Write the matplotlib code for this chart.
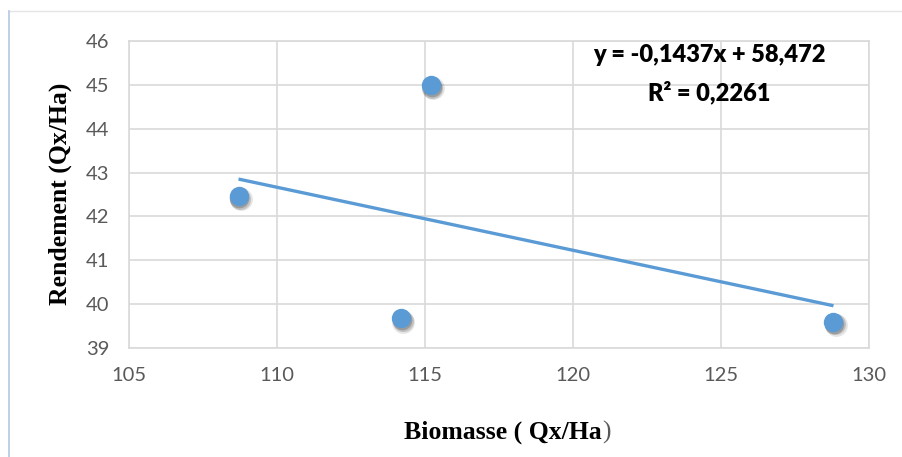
import matplotlib
matplotlib.use("Agg")
import matplotlib.pyplot as plt
import matplotlib.transforms as mtransforms
from matplotlib.lines import Line2D
import numpy as np

# Data
biomasse = [108.7, 114.2, 115.2, 128.8]
rendement = [42.47, 39.68, 45.0, 39.6]
slope = -0.1437
intercept = 58.472
x_ticks = [105, 110, 115, 120, 125, 130]
y_ticks = [39, 40, 41, 42, 43, 44, 45, 46]
eq_text = "y = -0,1437x + 58,472"
r2_text = "R² = 0,2261"

fig = plt.figure(figsize=(9.02, 4.57), dpi=100)
fig.patch.set_facecolor("white")

# outer chart frame
fig.add_artist(Line2D([9/902, 1.0], [1 - 11/457, 1 - 11/457], transform=fig.transFigure,
                      color="#E4E4E4", lw=1))
fig.add_artist(Line2D([9/902, 9/902], [0, 1 - 11/457], transform=fig.transFigure,
                      color="#B4C7E7", lw=1.2))

ax = fig.add_axes([129/902, 1 - 348/457, 740/902, 307/457])
ax.set_xlim(105, 130)
ax.set_ylim(39, 46)
ax.set_xticks(x_ticks)
ax.set_yticks(y_ticks)
ax.grid(True, color="#D9D9D9", lw=1.2)
ax.set_axisbelow(True)
for s in ax.spines.values():
    s.set_color("#D9D9D9")
    s.set_linewidth(1.2)
ax.tick_params(length=0, pad=14, labelsize=14.5, labelcolor="#595959")
for lab in ax.get_xticklabels() + ax.get_yticklabels():
    lab.set_fontfamily("Lato")

# shadow for markers
for dx, dy, a, s in [(1.5, -2.5, 0.10, 270), (1.0, -2.0, 0.15, 230), (0.5, -1.5, 0.2, 200)]:
    off = mtransforms.offset_copy(ax.transData, fig=fig, x=dx, y=dy, units="points")
    ax.scatter(biomasse, rendement, s=s, color="#000000", alpha=a, lw=0,
               transform=off, zorder=2)

ax.scatter(biomasse, rendement, s=195, color="#5B9BD5", lw=0, zorder=3)

xs = np.array([min(biomasse), max(biomasse)])
ax.plot(xs, slope * xs + intercept, color="#5B9BD5", lw=2.4, zorder=4,
        solid_capstyle="butt")

fig.text(709/902, 1 - 55/457, eq_text, ha="center", va="center",
         fontsize=17, fontweight="heavy", family="Lato", color="black")
fig.text(709/902, 1 - 92/457, r2_text, ha="center", va="center",
         fontsize=17, fontweight="heavy", family="Lato", color="black")

# axis titles
fig.text(60/902, 1 - 194/457, "Rendement (Qx/Ha)", rotation=90, ha="center", va="center",
         fontsize=18.5, fontweight="bold", family="Liberation Serif", color="black")
t = fig.text(503/902, 1 - 432/457, "Biomasse ( Qx/Ha", ha="center", va="center",
             fontsize=18.5, fontweight="bold", family="Liberation Serif", color="black")
fig.canvas.draw()
bb = t.get_window_extent()
fig.text(bb.x1 / 902 + 0.5/902, 1 - 432/457, ")", ha="left", va="center",
         fontsize=18.5, family="Liberation Serif", color="#595959")

fig.savefig("out.png", dpi=100, facecolor="white")
